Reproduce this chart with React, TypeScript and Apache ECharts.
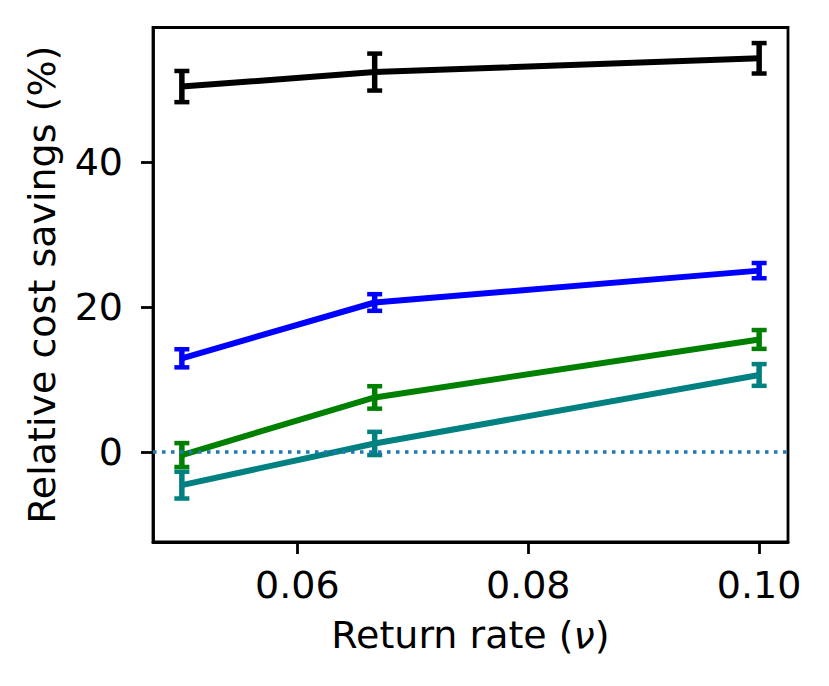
import React, { useEffect, useRef } from "react";
import * as echarts from "echarts";

const returnRates = [0.05, 0.0667, 0.1];
const blackVals = [50.4, 52.4, 54.3];
const blackErr = [2.15, 2.55, 2.1];
const blueVals = [12.9, 20.6, 25.0];
const blueErr = [1.25, 1.15, 1.05];
const greenVals = [-0.45, 7.5, 15.5];
const greenErr = [1.65, 1.55, 1.3];
const tealVals = [-4.6, 1.15, 10.6];
const tealErr = [1.85, 1.6, 1.5];
const xTicks = [0.06, 0.08, 0.1];
const yTicks = [0, 20, 40];

const FONT = "DejaVu Sans";
const FS = 38;

function seriesFor(name: string, color: string, vals: number[], errs: number[], z: number) {
  const lineData = returnRates.map((x, i) => [x, vals[i]]);
  const errData = returnRates.map((x, i) => [x, vals[i] - errs[i], vals[i] + errs[i]]);
  return [
    {
      name,
      type: "line",
      data: lineData,
      symbol: "none",
      z,
      lineStyle: { color, width: 6, join: "round" },
    },
    {
      name: name + "-err",
      type: "custom",
      z: z + 0.5,
      data: errData,
      renderItem: (params: any, api: any) => {
        const x = api.value(0);
        const lo = api.value(1);
        const hi = api.value(2);
        const top = api.coord([x, hi]);
        const bot = api.coord([x, lo]);
        const cw = 7.5;
        const st = { stroke: color, lineWidth: 5.5 };
        const cst = { stroke: color, lineWidth: 4.5 };
        return {
          type: "group",
          children: [
            { type: "line", shape: { x1: top[0], y1: top[1], x2: bot[0], y2: bot[1] }, style: st },
            { type: "line", shape: { x1: top[0] - cw, y1: top[1], x2: top[0] + cw, y2: top[1] }, style: cst },
            { type: "line", shape: { x1: bot[0] - cw, y1: bot[1], x2: bot[0] + cw, y2: bot[1] }, style: cst },
          ],
        };
      },
    },
  ];
}

export default function App() {
  const ref = useRef<HTMLDivElement>(null);
  useEffect(() => {
    if (!ref.current) return;
    const chart = echarts.init(ref.current, null, { renderer: "svg" });
    const option: any = {
      animation: false,
      backgroundColor: "#ffffff",
      grid: {
        left: 153,
        right: 41,
        top: 27.5,
        bottom: 144,
        show: true,
        borderColor: "#000",
        borderWidth: 2.8,
        outerBoundsMode: "none",
        containLabel: false,
      },
      xAxis: {
        type: "value",
        min: 0.0475,
        max: 0.1025,
        name: "Return rate ({i|ν})",
        nameLocation: "middle",
        nameGap: 74,
        nameTextStyle: {
          fontFamily: FONT,
          fontSize: FS,
          color: "#000",
          rich: { i: { fontFamily: FONT, fontSize: FS, fontStyle: "italic", color: "#000" } },
        },
        axisLine: { show: true, onZero: false, lineStyle: { color: "#000", width: 2.8 } },
        axisTick: { show: true, inside: false, length: 12, lineStyle: { color: "#000", width: 2.8 }, customValues: xTicks },
        axisLabel: {
          show: true,
          margin: 23.5,
          fontFamily: FONT,
          fontSize: FS,
          color: "#000",
          customValues: xTicks,
          formatter: (v: number) => v.toFixed(2),
        },
        splitLine: { show: false },
      },
      yAxis: {
        type: "value",
        min: -12.45,
        max: 58.55,
        name: "Relative cost savings (%)",
        nameLocation: "middle",
        nameGap: 92,
        nameTextStyle: { fontFamily: FONT, fontSize: FS, color: "#000" },
        axisLine: { show: true, onZero: false, lineStyle: { color: "#000", width: 2.8 } },
        axisTick: { show: true, inside: false, length: 12, lineStyle: { color: "#000", width: 2.8 }, customValues: yTicks },
        axisLabel: {
          show: true,
          margin: 30,
          fontFamily: FONT,
          fontSize: FS,
          color: "#000",
          customValues: yTicks,
          formatter: (v: number) => String(Math.round(v)),
        },
        splitLine: { show: false },
      },
      series: [
        ...seriesFor("teal", "#008080", tealVals, tealErr, 2),
        ...seriesFor("green", "#008000", greenVals, greenErr, 3),
        ...seriesFor("blue", "#0000ff", blueVals, blueErr, 4),
        ...seriesFor("black", "#000000", blackVals, blackErr, 5),
        {
          name: "zero",
          type: "line",
          data: [],
          z: 10,
          markLine: {
            silent: true,
            symbol: ["none", "none"],
            label: { show: false },
            lineStyle: { color: "#1f77b4", width: 3.5, type: [3.5, 5.5] },
            data: [{ yAxis: 0 }],
          },
        },
      ],
    };
    chart.setOption(option);
    return () => chart.dispose();
  }, []);
  return (
    <div
      ref={ref}
      style={{ position: "fixed", left: 0, top: 0, width: 829, height: 686, background: "#fff" }}
    />
  );
}
